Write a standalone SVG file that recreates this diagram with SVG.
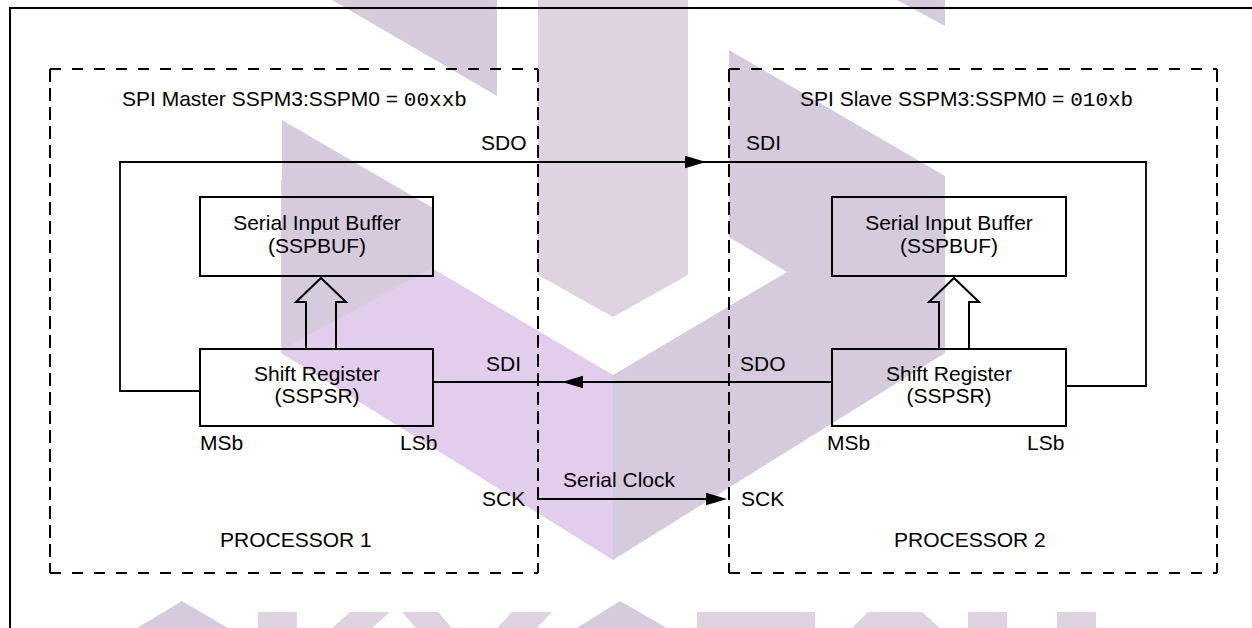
<svg xmlns="http://www.w3.org/2000/svg" width="1252" height="628" viewBox="0 0 1252 628">
<style>
.ln{fill:none;stroke:#000;stroke-width:2}
.cn{fill:none;stroke:#000;stroke-width:1.8}
.dh{fill:none;stroke:#000;stroke-width:2;stroke-dasharray:11 11}
.dv{fill:none;stroke:#000;stroke-width:2;stroke-dasharray:13 6}
.t{font-family:"Liberation Sans",Arial,Helvetica,sans-serif;font-size:21px;fill:#000}
.m{font-family:"Liberation Mono","Courier New",monospace}
.c{text-anchor:middle}
.ah{fill:#000}
.wg{fill:#d6cbdc}
.wl{fill:#dfd3e1}
.wp{fill:#e3cdec}
</style>
<defs>
<path id="ah" class="ah" d="M0,0 L-21,-6.3 L-21,6.3 Z"/>
</defs>
<rect width="1252" height="628" fill="#fff"/>
<g id="watermark">
<polygon class="wg" points="332,0 497,0 497,96"/>
<polygon class="wl" points="538,0 688,0 688,275 613,317 538,275"/>
<polygon class="wg" points="897,0 945,0 945,26"/>
<polygon class="wp" points="281,179 613,375 613,560 281,353"/>
<polygon class="wg" points="282,120 433,208 433,267 282,350"/>
<polygon class="wg" points="729,50 945,176 945,353 613,560 613,375 787,272 729,237"/>
<polygon class="wg" points="137,628 182,601 228,628"/>
<rect class="wl" x="258" y="612" width="39" height="16"/>
<polygon class="wl" points="350,612 390,612 372,628 332,628"/>
<polygon class="wl" points="402,612 438,612 452,628 416,628"/>
<polygon class="wl" points="512,612 552,612 537,628 497,628"/>
<polygon class="wg" points="577,628 620,601 667,628"/>
<rect class="wl" x="697" y="612" width="118" height="16"/>
<polygon class="wl" points="868,612 922,612 940,628 852,628"/>
<rect class="wl" x="968" y="612" width="39" height="16"/>
<rect class="wl" x="1057" y="612" width="39" height="16"/>
</g>
<g id="frame">
<polyline class="ln" points="10,628 10,8 1252,8"/>
</g>
<g id="processor1">
<line class="dh" x1="50" y1="69" x2="538" y2="69"/>
<line class="dh" x1="50" y1="573" x2="538" y2="573"/>
<line class="dv" x1="50" y1="69" x2="50" y2="573"/>
<line class="dv" x1="538" y1="69" x2="538" y2="573"/>
<text class="t" x="122" y="106">SPI Master SSPM3:SSPM0 = <tspan class="m">00xxb</tspan></text>
<text class="t" x="220" y="547">PROCESSOR 1</text>
</g>
<g id="processor2">
<line class="dh" x1="729" y1="69" x2="1217" y2="69"/>
<line class="dh" x1="729" y1="573" x2="1217" y2="573"/>
<line class="dv" x1="729" y1="69" x2="729" y2="573"/>
<line class="dv" x1="1217" y1="69" x2="1217" y2="573"/>
<text class="t" x="800" y="106">SPI Slave SSPM3:SSPM0 = <tspan class="m">010xb</tspan></text>
<text class="t" x="894" y="547">PROCESSOR 2</text>
</g>
<g id="master-buffer">
<rect class="ln" x="200" y="197" width="233" height="79"/>
<text class="t c" x="317" y="230">Serial Input Buffer</text>
<text class="t c" x="317" y="253">(SSPBUF)</text>
</g>
<g id="master-shift">
<rect class="ln" x="200" y="349" width="233" height="77"/>
<text class="t c" x="317" y="381">Shift Register</text>
<text class="t c" x="317" y="403">(SSPSR)</text>
<text class="t" x="200" y="450">MSb</text>
<text class="t" x="400" y="450">LSb</text>
</g>
<g id="slave-buffer">
<rect class="ln" x="832" y="197" width="234" height="79"/>
<text class="t c" x="949" y="230">Serial Input Buffer</text>
<text class="t c" x="949" y="253">(SSPBUF)</text>
</g>
<g id="slave-shift">
<rect class="ln" x="832" y="349" width="234" height="77"/>
<text class="t c" x="949" y="381">Shift Register</text>
<text class="t c" x="949" y="403">(SSPSR)</text>
<text class="t" x="827" y="450">MSb</text>
<text class="t" x="1027" y="450">LSb</text>
</g>
<g id="connectors">
<polygon class="ln" points="306,349 306,302 296,302 321,278 346,302 336,302 336,349"/>
<polygon class="ln" points="939,349 939,302 929,302 954,278 979,302 969,302 969,349"/>
<polyline class="cn" points="200,391 120,391 120,162 1146,162 1146,386 1066,386"/>
<use href="#ah" transform="translate(706,162)"/>
<line class="cn" x1="832" y1="382" x2="433" y2="382"/>
<use href="#ah" transform="translate(562,382) rotate(180)"/>
<line class="cn" x1="538" y1="499" x2="710" y2="499"/>
<use href="#ah" transform="translate(727,499)"/>
<text class="t" x="481" y="150">SDO</text>
<text class="t" x="746" y="150">SDI</text>
<text class="t" x="486" y="371">SDI</text>
<text class="t" x="740" y="371">SDO</text>
<text class="t" x="563" y="487">Serial Clock</text>
<text class="t" x="482" y="506">SCK</text>
<text class="t" x="741" y="506">SCK</text>
</g>
</svg>
